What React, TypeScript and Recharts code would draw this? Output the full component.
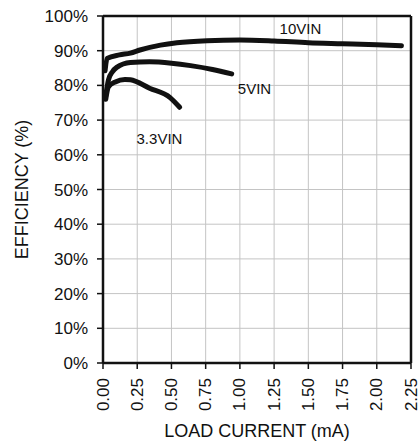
import {
  CartesianGrid,
  Line,
  LineChart,
  ReferenceDot,
  ReferenceLine,
  XAxis,
  YAxis,
} from "recharts";

const INK = "#111";
const GRID = "#c4c4c4";
const FONT = "'Liberation Sans', Arial, sans-serif";

const xTicks = [0, 0.25, 0.5, 0.75, 1, 1.25, 1.5, 1.75, 2, 2.25];
const yTicks = [0, 10, 20, 30, 40, 50, 60, 70, 80, 90, 100];

const load10 = [0.015, 0.03, 0.12, 0.2, 0.27, 0.42, 0.54, 0.76, 1.0, 1.25, 1.5, 1.75, 2.0, 2.18];
const eff10 = [84.2, 87.8, 88.8, 89.3, 90.2, 91.6, 92.3, 92.9, 93.1, 92.8, 92.3, 92.0, 91.7, 91.4];

const load5 = [0.02, 0.04, 0.07, 0.1, 0.2, 0.34, 0.5, 0.64, 0.8, 0.94];
const eff5 = [77.0, 81.6, 84.0, 85.2, 86.6, 86.8, 86.4, 85.7, 84.6, 83.3];

const load33 = [0.02, 0.04, 0.09, 0.16, 0.2, 0.34, 0.49, 0.56];
const eff33 = [76.0, 79.6, 81.0, 81.7, 81.6, 79.2, 76.5, 73.7];

const seriesNames = ["10VIN", "5VIN", "3.3VIN"];
// where each series name sits, in data units (left edge, vertical centre)
const nameAt = [
  { x: 1.29, y: 96.3 },
  { x: 0.985, y: 79.0 },
  { x: 0.245, y: 64.8 },
];

const toPts = (xs: number[], ys: number[]) => xs.map((x, i) => ({ x, y: ys[i] }));
const series = [toPts(load10, eff10), toPts(load5, eff5), toPts(load33, eff33)];

function XTick({ x, y, payload }: any) {
  return (
    <text
      x={x}
      y={y}
      transform={`rotate(-90, ${x}, ${y})`}
      textAnchor="end"
      dominantBaseline="central"
      fontSize={17}
      fontFamily={FONT}
      fill={INK}
    >
      {payload.value.toFixed(2)}
    </text>
  );
}

function YTitle({ viewBox }: any) {
  const cy = viewBox.y + viewBox.height / 2;
  return (
    <text
      x={22}
      y={cy}
      transform={`rotate(-90, 22, ${cy})`}
      textAnchor="middle"
      dominantBaseline="central"
      fontSize={18}
      fontFamily={FONT}
      fill={INK}
    >
      EFFICIENCY (%)
    </text>
  );
}

function NameLabel({ viewBox, value }: any) {
  return (
    <text
      x={viewBox.x}
      y={viewBox.y}
      dominantBaseline="central"
      fontSize={15}
      fontFamily={FONT}
      fill={INK}
    >
      {value}
    </text>
  );
}

export default function App() {
  return (
    <div style={{ position: "absolute", left: 0, top: 0, background: "#fff" }}>
      <LineChart width={419} height={444} margin={{ top: 16, right: 8, bottom: 0, left: 0 }}>
        <CartesianGrid stroke={GRID} strokeWidth={1} />
        <XAxis
          type="number"
          dataKey="x"
          domain={[0, 2.25]}
          ticks={xTicks}
          interval={0}
          height={81}
          tick={<XTick />}
          tickSize={6}
          tickMargin={9}
          axisLine={{ stroke: INK, strokeWidth: 2.5 }}
          tickLine={{ stroke: INK, strokeWidth: 1.5 }}
          label={{
            value: "LOAD CURRENT (mA)",
            position: "insideBottom",
            offset: 7,
            fontSize: 18,
            fontFamily: FONT,
            fill: INK,
          }}
        />
        <YAxis
          type="number"
          domain={[0, 100]}
          ticks={yTicks}
          interval={0}
          width={103}
          tickFormatter={(v) => `${v}%`}
          tick={{ fontSize: 17, fontFamily: FONT, fill: INK }}
          tickSize={6}
          tickMargin={9}
          axisLine={{ stroke: INK, strokeWidth: 2.5 }}
          tickLine={{ stroke: INK, strokeWidth: 1.5 }}
          label={<YTitle />}
        />
        <ReferenceLine y={100} stroke={INK} strokeWidth={2.5} />
        <ReferenceLine x={2.25} stroke={INK} strokeWidth={2.5} />
        {series.map((d, i) => (
          <Line
            key={seriesNames[i]}
            data={d}
            dataKey="y"
            type="monotone"
            stroke={INK}
            strokeWidth={5}
            strokeLinecap="round"
            strokeLinejoin="round"
            dot={false}
            activeDot={false}
            isAnimationActive={false}
          />
        ))}
        {nameAt.map((p, i) => (
          <ReferenceDot
            key={seriesNames[i]}
            x={p.x}
            y={p.y}
            r={0}
            fill="none"
            stroke="none"
            label={<NameLabel value={seriesNames[i]} />}
          />
        ))}
      </LineChart>
    </div>
  );
}
